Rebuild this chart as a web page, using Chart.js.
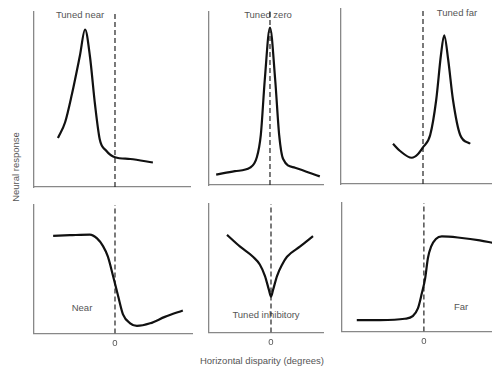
<html>

<head>
    <title>Disparity tuning</title>
    <script src="https://cdn.jsdelivr.net/npm/chart.js"></script>
    <style>
        body { margin: 0; background: #fff; width: 492px; height: 370px; position: relative; overflow: hidden;
               font-family: "Liberation Sans", Arial, sans-serif; color: #555; }
        .panel { position: absolute; }
        .lbl { position: absolute; font-size: 9.5px; white-space: nowrap; transform: translate(-50%, -50%); }
        .ytitle { position: absolute; font-size: 9.5px; white-space: nowrap; transform: translate(-50%, -50%) rotate(-90deg); }
    </style>
</head>

<body>
    <div class="lbl" style="left:80px;top:14px">Tuned near</div>
    <div class="lbl" style="left:268px;top:14px">Tuned zero</div>
    <div class="lbl" style="left:457px;top:12px">Tuned far</div>
    <div class="lbl" style="left:82px;top:307px">Near</div>
    <div class="lbl" style="left:266px;top:314px">Tuned inhibitory</div>
    <div class="lbl" style="left:461px;top:306px">Far</div>
    <div class="lbl" style="left:262px;top:360px">Horizontal disparity (degrees)</div>
    <div class="ytitle" style="left:15px;top:167px">Neural response</div>

    <script type="text/javascript" charset="utf-8">

        // disparity (deg) and normalised response
        var tunedNearX = [-1.43, -1.25, -1.08, -0.88, -0.75, -0.63, -0.5, -0.38, -0.23, 0, 0.38, 0.95];
        var tunedNearY = [0.28, 0.37, 0.53, 0.75, 0.9, 0.75, 0.47, 0.27, 0.21, 0.17, 0.16, 0.14];

        var tunedZeroX = [-1.35, -0.88, -0.5, -0.33, -0.23, -0.13, 0, 0.13, 0.23, 0.33, 0.63, 1.25];
        var tunedZeroY = [0.06, 0.08, 0.1, 0.16, 0.29, 0.61, 0.91, 0.61, 0.29, 0.15, 0.1, 0.05];

        var tunedFarX = [-0.75, -0.58, -0.28, -0.13, 0, 0.18, 0.33, 0.45, 0.53, 0.63, 0.75, 0.93, 1.18];
        var tunedFarY = [0.23, 0.19, 0.15, 0.17, 0.21, 0.28, 0.48, 0.74, 0.85, 0.71, 0.48, 0.28, 0.23];

        var nearX = [-1.55, -1.13, -0.63, -0.45, -0.3, -0.18, -0.05, 0.08, 0.2, 0.38, 0.55, 0.88, 1.25, 1.7];
        var nearY = [0.76, 0.765, 0.77, 0.74, 0.68, 0.6, 0.45, 0.29, 0.15, 0.08, 0.06, 0.08, 0.13, 0.18];

        var inhibX = [-1.1, -0.78, -0.45, -0.28, -0.15, -0.05, 0, 0.05, 0.15, 0.28, 0.4, 0.73, 1.05];
        var inhibY = [0.76, 0.67, 0.59, 0.53, 0.44, 0.33, 0.28, 0.33, 0.44, 0.53, 0.59, 0.67, 0.75];

        var farX = [-1.68, -1.1, -0.48, -0.28, -0.15, -0.05, 0.03, 0.1, 0.18, 0.3, 0.45, 0.9, 1.4, 1.73];
        var farY = [0.09, 0.09, 0.1, 0.12, 0.18, 0.3, 0.41, 0.57, 0.66, 0.72, 0.74, 0.73, 0.71, 0.69];

        var zeroTicks = [0];

        // chart area of each panel in page pixels: left, top, right, bottom
        var panels = [
            { x: tunedNearX, y: tunedNearY, min: -2.03, max: 1.88, box: [34, 12, 190, 187], ticks: false },
            { x: tunedZeroX, y: tunedZeroY, min: -1.53, max: 1.33, box: [209, 12, 323, 185], ticks: false },
            { x: tunedFarX, y: tunedFarY, min: -2.05, max: 1.75, box: [341, 9, 493, 184], ticks: false },
            { x: nearX, y: nearY, min: -2.03, max: 1.93, box: [34, 205, 192, 336], ticks: true },
            { x: inhibX, y: inhibY, min: -1.55, max: 1.3, box: [209, 204, 323, 335], ticks: true },
            { x: farX, y: farY, min: -2.05, max: 1.73, box: [342, 203, 493, 334], ticks: true }
        ];

        var pad = 3;
        var tickSpace = 17;

        function makePanel(p) {
            var b = p.box;
            var div = document.createElement('div');
            div.className = 'panel';
            div.style.left = (b[0] - pad) + 'px';
            div.style.top = (b[1] - pad) + 'px';
            div.style.width = (b[2] - b[0] + 2 * pad) + 'px';
            div.style.height = (b[3] - b[1] + pad + (p.ticks ? tickSpace : pad)) + 'px';
            var el = document.createElement('canvas');
            div.appendChild(el);
            document.body.appendChild(div);

            var pts = p.x.map(function (v, i) { return { x: v, y: p.y[i] }; });

            new Chart(el, {
                type: 'scatter',
                data: {
                    datasets: [
                        {
                            data: pts,
                            showLine: true,
                            borderColor: '#111',
                            borderWidth: 2.2,
                            pointRadius: 0,
                            cubicInterpolationMode: 'monotone'
                        },
                        {
                            data: [{ x: 0, y: 0 }, { x: 0, y: 1 }],
                            showLine: true,
                            borderColor: '#222',
                            borderWidth: 1.2,
                            borderDash: [5, 3],
                            pointRadius: 0
                        }
                    ]
                },
                options: {
                    responsive: true,
                    maintainAspectRatio: false,
                    animation: false,
                    layout: { padding: { left: pad, top: pad, right: pad, bottom: p.ticks ? 0 : pad } },
                    plugins: { legend: { display: false }, tooltip: { enabled: false } },
                    scales: {
                        x: {
                            type: 'linear',
                            min: p.min,
                            max: p.max,
                            grid: { display: false, drawTicks: false },
                            border: { display: true, color: '#888', width: 1.3 },
                            afterBuildTicks: function (s) { s.ticks = zeroTicks.map(function (v) { return { value: v }; }); },
                            ticks: {
                                display: p.ticks,
                                padding: 4,
                                color: '#555',
                                font: { family: '"Liberation Sans", Arial, sans-serif', size: 9.5 }
                            }
                        },
                        y: {
                            min: 0,
                            max: 1,
                            grid: { display: false, drawTicks: false },
                            border: { display: true, color: '#888', width: 1.3 },
                            ticks: { display: false }
                        }
                    }
                }
            });
        }

        for (var i = 0; i < panels.length; i++) {
            makePanel(panels[i]);
        }

    </script>
</body>

</html>
